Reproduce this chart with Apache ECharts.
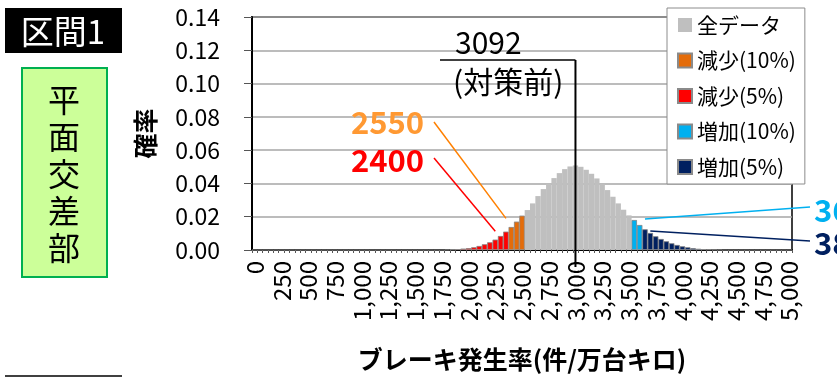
<!DOCTYPE html>
<html>
<head>
<meta charset="utf-8">
<script src="https://cdn.jsdelivr.net/npm/echarts@6/dist/echarts.min.js"></script>
<style>
  html, body { margin: 0; padding: 0; background: #fff; }
  #main { width: 837px; height: 377px; }
</style>
</head>
<body>
<div id="main"></div>
<script>
// bins of 50 (件/万台キロ), 0 .. 5000
const categories = [];
for (let v = 0; v <= 5000; v += 50) categories.push(v);

// 確率 per bin
const probAll = [
  0, 0, 0, 0, 0, 0, 0, 0, 0, 0,
  0, 0, 0, 0, 0, 0, 0, 0, 0, 0,
  0, 0, 0, 0, 0, 0, 0, 0, 0, 0,
  0, 0, 0, 0, 0, 0, 0.0001, 0.0003, 0.0005, 0.0008,
  0.0011, 0.0016, 0.0024, 0.0034, 0.0046, 0.0062, 0.0084, 0.0110, 0.0138, 0.0170,
  0.0206, 0.0240, 0.0280, 0.0324, 0.0366, 0.0400, 0.0432, 0.0462, 0.0486, 0.0502,
  0.0508, 0.0500, 0.0482, 0.0458, 0.0430, 0.0398, 0.0360, 0.0320, 0.0280, 0.0242,
  0.0208, 0.0180, 0.0150, 0.0124, 0.0102, 0.0082, 0.0066, 0.0052, 0.0040, 0.0030,
  0.0022, 0.0016, 0.0011, 0.0007, 0.0005, 0.0003, 0.0002, 0.0001, 0, 0,
  0, 0, 0, 0, 0, 0, 0, 0, 0, 0, 0
];

const seriesNames = ['全データ', '減少(10%)', '減少(5%)', '増加(10%)', '増加(5%)'];
const seriesColors = ['#bfbfbf', '#e46c0a', '#ff0000', '#00b0f0', '#002060'];

// tail limits (bins starting below / from these values)
const decrease5Limit = 2400;
const decrease10Limit = 2550;
const increase10Limit = 3550;
const increase5Limit = 3650;
const beforeValue = 3092;
const beforeBin = 3000;

const yMin = 0, yMax = 0.14, yStep = 0.02;

function pick(test) {
  return probAll.map((v, i) => (test(categories[i]) ? v : '-'));
}

const seriesData = [
  probAll,
  pick(c => c >= decrease5Limit && c < decrease10Limit),
  pick(c => c < decrease5Limit),
  pick(c => c >= increase10Limit && c < increase5Limit),
  pick(c => c >= increase5Limit)
];

const FONT = '"Noto Sans CJK JP", "Noto Sans", sans-serif';
const chart = echarts.init(document.getElementById('main'));

chart.setOption({
  animation: false,
  textStyle: { fontFamily: FONT },
  grid: {
    left: 252, right: 45, top: 17, bottom: 126,
    show: true, borderColor: '#000', borderWidth: 1.5
  },
  legend: {
    orient: 'vertical',
    left: 667, top: 8,
    data: seriesNames,
    icon: 'rect',
    itemWidth: 14, itemHeight: 14,
    itemGap: 13.5,
    padding: [6, 9, 6, 10],
    backgroundColor: '#fff',
    borderColor: '#8c8c8c',
    borderWidth: 1,
    textStyle: { fontSize: 21, color: '#000', fontFamily: FONT, lineHeight: 22 }
  },
  xAxis: {
    type: 'category',
    data: categories,
    boundaryGap: true,
    name: 'ブレーキ発生率(件/万台キロ)',
    nameLocation: 'middle',
    nameGap: 97,
    nameTextStyle: { fontSize: 25, fontWeight: 'bold', color: '#000', fontFamily: FONT },
    axisLine: { lineStyle: { color: '#000', width: 2 } },
    axisTick: { show: true, interval: 0, length: 3, lineStyle: { color: '#555', width: 1 } },
    axisLabel: {
      interval: 4,
      rotate: 90,
      margin: 11,
      fontSize: 24,
      color: '#000',
      formatter: v => Number(v).toLocaleString('en-US')
    },
    splitLine: { show: false }
  },
  yAxis: {
    type: 'value',
    min: yMin, max: yMax, interval: yStep,
    name: '確率',
    nameLocation: 'middle',
    nameRotate: 90,
    nameGap: 94,
    nameTextStyle: { fontSize: 25, fontWeight: 'bold', color: '#000', fontFamily: FONT },
    axisLine: { show: true, lineStyle: { color: '#000', width: 2 } },
    axisTick: { show: true, length: 8, lineStyle: { color: '#555' } },
    axisLabel: { fontSize: 23, color: '#000', margin: 32, formatter: v => v.toFixed(2) },
    splitLine: { lineStyle: { color: '#a6a6a6', width: 1.5 } }
  },
  series: seriesNames.map((name, i) => ({
    name: name,
    type: 'bar',
    data: seriesData[i],
    barGap: '-100%',
    barCategoryGap: '0%',
    itemStyle: i === 0
      ? { color: seriesColors[i] }
      : { color: seriesColors[i], borderColor: '#8a8a8a', borderWidth: 0.7 }
  }))
});

// annotations
const beforeIdx = categories.indexOf(beforeBin);
const pBase = chart.convertToPixel({ gridIndex: 0 }, [beforeIdx, 0]);
const pOrange = chart.convertToPixel({ gridIndex: 0 }, [categories.indexOf(2350), 0.019]);
const pRed = chart.convertToPixel({ gridIndex: 0 }, [categories.indexOf(2250), 0.0113]);
const pBlue = chart.convertToPixel({ gridIndex: 0 }, [categories.indexOf(3650), 0.0186]);
const pNavy = chart.convertToPixel({ gridIndex: 0 }, [categories.indexOf(3700), 0.0114]);

function txt(text, x, y, size, color, bold, align) {
  return {
    type: 'text', z: 100,
    style: {
      text: text, x: x, y: y, fill: color,
      fontSize: size, fontWeight: bold ? 'bold' : 'normal', fontFamily: FONT,
      align: align || 'left', verticalAlign: 'middle'
    }
  };
}
function ln(x1, y1, x2, y2, color, w) {
  return { type: 'line', z: 100, shape: { x1, y1, x2, y2 }, style: { stroke: color, lineWidth: w } };
}

chart.setOption({
  graphic: [
    // 区間 header
    { type: 'rect', shape: { x: 5, y: 8, width: 117, height: 45 }, style: { fill: '#000' } },
    txt('区間1', 63, 31, 33, '#fff', false, 'center'),
    { type: 'rect', shape: { x: 22, y: 68, width: 85, height: 209 },
      style: { fill: '#ccff99', stroke: '#00b050', lineWidth: 2 } },
    {
      type: 'text',
      style: {
        text: '平\n面\n交\n差\n部', x: 64, y: 174, fill: '#000',
        fontSize: 32, lineHeight: 37, fontFamily: FONT,
        align: 'center', verticalAlign: 'middle'
      }
    },
    ln(5, 376, 122, 376, '#000', 1.5),

    // 対策前 marker
    ln(pBase[0], 60, pBase[0], pBase[1] + 17, '#000', 2),
    ln(440, 60, pBase[0], 60, '#000', 1.5),
    txt(String(beforeValue), 455, 43, 30, '#000', false),
    txt('(対策前)', 453, 82, 30, '#000', false),

    // left tail labels
    txt('2550', 351, 122, 31, '#ff9933', true),
    txt('2400', 351, 160, 31, '#ff0000', true),
    ln(434, 122, pOrange[0], pOrange[1], '#ff8000', 1.5),
    ln(434, 158, pRed[0], pRed[1], '#ff0000', 1.5),

    // right tail labels (clipped at the edge)
    ln(pBlue[0], pBlue[1], 810, 207, '#00b0f0', 1.5),
    ln(pNavy[0], pNavy[1], 810, 241, '#002060', 1.5),
    txt('3650', 814, 210, 31, '#00b0f0', true),
    txt('3800', 814, 243, 31, '#002060', true)
  ]
});
</script>
</body>
</html>
